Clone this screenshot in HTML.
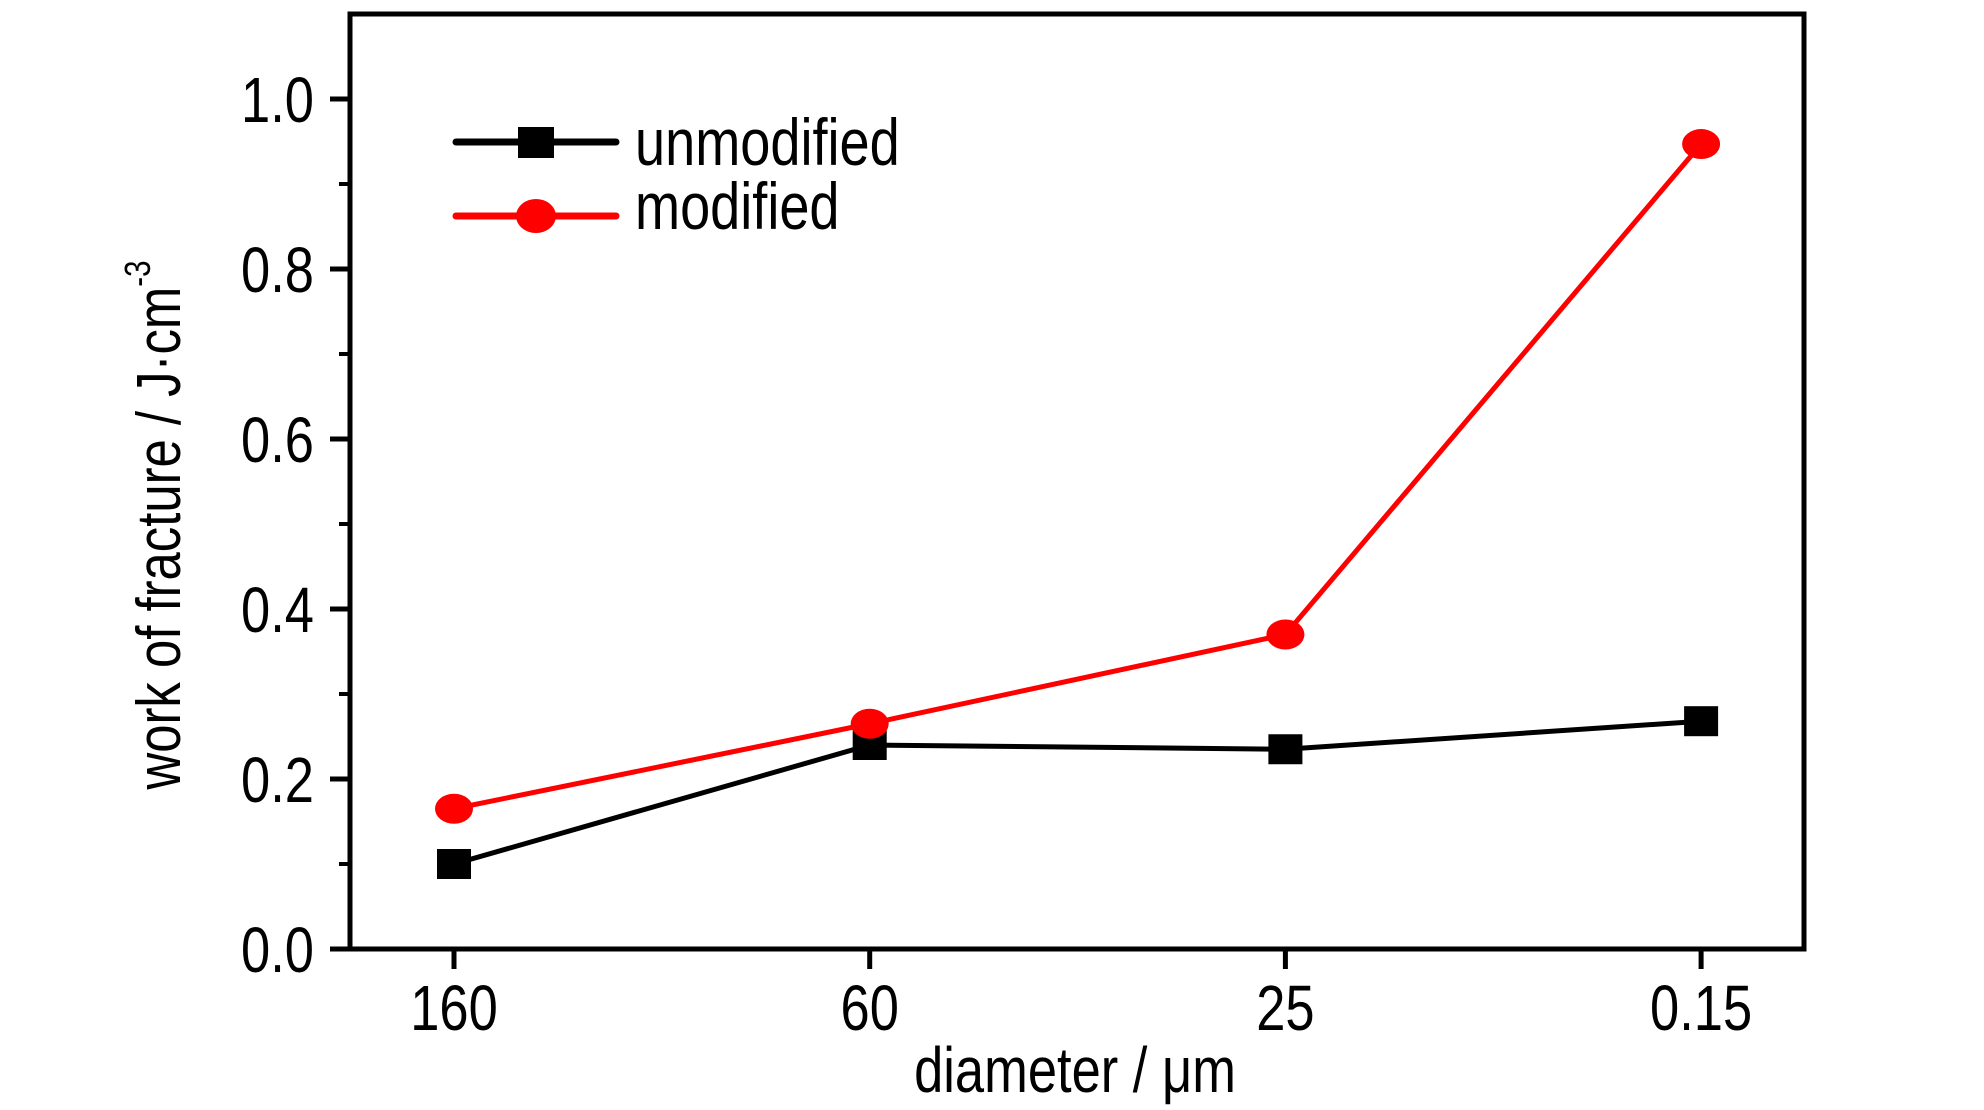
<!DOCTYPE html>
<html><head><meta charset="utf-8"><style>
html,body{margin:0;padding:0;background:#fff;}
svg{display:block;}
text{font-family:"Liberation Sans",sans-serif;fill:#000;}
</style></head><body>
<svg id="chart" width="1984" height="1110" viewBox="0 0 1984 1110"></svg>
<script>
const categories = ["160","60","25","0.15"];
const unmodified = [0.10,0.24,0.235,0.268];
const modified = [0.165,0.265,0.37,0.947];
const yTicks = [0.0,0.2,0.4,0.6,0.8,1.0];
const yTickLabels = ["0.0","0.2","0.4","0.6","0.8","1.0"];
const yMinor = [0.1,0.3,0.5,0.7,0.9];

const NS="http://www.w3.org/2000/svg";
const svg=document.getElementById('chart');
const L=350,R=1804,T=14,B=949,yMax=1.1;
function xs(i){return 454+i*415.7;}
function ys(v){return B-(v/yMax)*(B-T);}
function mk(tag,attrs,parent){const e=document.createElementNS(NS,tag);for(const k in attrs)e.setAttribute(k,attrs[k]);(parent||svg).appendChild(e);return e;}
const SX=0.82;
function txt(x,y,s,anchor,size,name){
  const g=mk('g',{transform:`translate(${x},${y}) scale(${SX},1)`});
  
  
  const t=mk('text',{x:0,y:0,'text-anchor':anchor,'font-size':size},g);
  t.textContent=s;return t;
}
// frame
const frame=mk('rect',{x:L,y:T,width:R-L,height:B-T,fill:'none',stroke:'#000','stroke-width':5});


// y ticks
yTicks.forEach((v,i)=>{
  const l=mk('line',{x1:L-20,x2:L,y1:ys(v),y2:ys(v),stroke:'#000','stroke-width':5});
  
  
  txt(L-36,ys(v)+23,yTickLabels[i],'end',64,'y-tick-label');
});
yMinor.forEach(v=>{
  const l=mk('line',{x1:L-11,x2:L,y1:ys(v),y2:ys(v),stroke:'#000','stroke-width':4});
  
  
});
// x ticks
categories.forEach((c,i)=>{
  const l=mk('line',{x1:xs(i),x2:xs(i),y1:B,y2:B+20,stroke:'#000','stroke-width':5});
  
  
  txt(xs(i),1030,c,'middle',64,'x-tick-label');
});
// titles
txt(1075,1092,'diameter / \u03bcm','middle',64,'x-axis-title');
const yg=mk('g',{transform:'translate(180,525) rotate(-90) scale(0.82,1)'});


const yt=mk('text',{x:0,y:0,'text-anchor':'middle','font-size':62},yg);
yt.textContent='work of fracture / J\u00b7cm';
const sup=mk('tspan',{'font-size':36,dy:-30},yt);sup.textContent='-3';
// series
function series(vals,color,marker,name){
  const pts=vals.map((v,i)=>xs(i)+','+ys(v)).join(' ');
  const pl=mk('polyline',{points:pts,fill:'none',stroke:color,'stroke-width':5});
  
  
  vals.forEach((v,i)=>{
    let m;
    if(marker==='sq') m=mk('rect',{x:xs(i)-17,y:ys(v)-15,width:34,height:30,fill:color});
    else m=mk('ellipse',{cx:xs(i),cy:ys(v),rx:19,ry:15,fill:color});
    
    
  });
}
series(unmodified,'#000','sq','unmodified');
series(modified,'#f00','ci','modified');
// legend
const lg1=mk('line',{x1:456,x2:616,y1:142,y2:142,stroke:'#000','stroke-width':7,'stroke-linecap':'round'});


const lm1=mk('rect',{x:518,y:127,width:36,height:31,fill:'#000'});


txt(635,165,'unmodified','start',66,'legend-unmodified-label');
const lg2=mk('line',{x1:456,x2:616,y1:216,y2:216,stroke:'#f00','stroke-width':7,'stroke-linecap':'round'});


const lm2=mk('ellipse',{cx:536,cy:216,rx:20,ry:17,fill:'#f00'});


txt(635,229,'modified','start',66,'legend-modified-label');
</script>
</body></html>
